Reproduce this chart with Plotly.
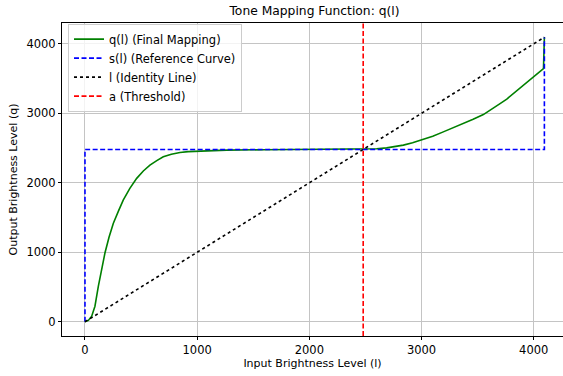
import plotly.graph_objects as go

# ---- data ----
L_MAX = 4095
A = 2480  # threshold

q_l = [0, 30, 60, 89, 119, 150, 178, 215, 253, 300, 342, 400, 461, 520, 579, 640, 698, 770, 847, 920, 996, 1130, 1263,
       1600, 2000, 2300, 2481, 2600, 2689, 2760, 2838, 2920, 3001, 3100, 3194, 3280, 3372, 3460, 3551, 3620, 3700,
       3760, 3818, 3900, 3968, 4030, 4087, 4095]
q_v = [0, 20, 80, 224, 510, 780, 989, 1220, 1419, 1600, 1753, 1920, 2064, 2170, 2255, 2320, 2374, 2412, 2437, 2449, 2456, 2465, 2470,
       2476, 2479, 2480, 2481, 2490, 2503, 2520, 2542, 2575, 2614, 2670, 2733, 2790, 2853, 2915, 2982, 3050, 3140,
       3205, 3283, 3380, 3474, 3560, 3645, 4095]

s_l = [0, 0, L_MAX, L_MAX]
s_v = [0, A, A, L_MAX]

id_l = [0, L_MAX]
id_v = [0, L_MAX]

pad = 0.05 * L_MAX
x_range = [-pad, 4261]
y_range = [-pad, L_MAX + pad]

FONT = "DejaVu Sans"

fig = go.Figure()
fig.add_trace(go.Scatter(x=q_l, y=q_v, mode="lines", name="q(l) (Final Mapping)",
                         line=dict(color="#008000", width=1.6)))
fig.add_trace(go.Scatter(x=s_l, y=s_v, mode="lines", name="s(l) (Reference Curve)",
                         line=dict(color="#0000ff", width=1.6, dash="5px,2.5px")))
fig.add_trace(go.Scatter(x=id_l, y=id_v, mode="lines", name="l (Identity Line)",
                         line=dict(color="black", width=1.6, dash="dot")))
fig.add_trace(go.Scatter(x=[A, A], y=y_range, mode="lines", name="a (Threshold)",
                         line=dict(color="#ff0000", width=1.6, dash="5px,2.5px")))

axis_common = dict(
    showline=True, linecolor="black", linewidth=1,
    ticks="outside", ticklen=3, tickcolor="black", tickwidth=1,
    showgrid=True, gridcolor="#c4c4c4", gridwidth=1,
    zeroline=False, automargin=False,
    tickfont=dict(family=FONT, size=11.5, color="black"),
    tickvals=[0, 1000, 2000, 3000, 4000],
)

fig.update_layout(
    width=563, height=376,
    margin=dict(l=62, r=0, t=23, b=40),
    plot_bgcolor="white", paper_bgcolor="white",
    font=dict(family=FONT, color="black"),
    title=dict(text="Tone Mapping Function: q(l)", x=(62 + 567) / 2 / 563, xanchor="center",
               y=1 - 11 / 376, yanchor="middle", font=dict(family=FONT, size=12.3, color="black")),
    xaxis=dict(range=x_range, mirror=True,
               title=dict(text="Input Brightness Level (l)", standoff=3,
                          font=dict(family=FONT, size=11, color="black")),
               **axis_common),
    yaxis=dict(range=y_range, mirror=False,
               title=dict(text="Output Brightness Level (q)", standoff=6,
                          font=dict(family=FONT, size=11, color="black")),
               **axis_common),
    legend=dict(x=0.012, y=0.998, xanchor="left", yanchor="top",
                bgcolor="rgba(255,255,255,0.8)", bordercolor="#cccccc", borderwidth=1,
                font=dict(family=FONT, size=11.5, color="black"),
                tracegroupgap=0, itemwidth=30),
    showlegend=True,
)

fig.write_html("out.html", config={"displayModeBar": False},
               post_script="document.body.style.margin='0px';")
